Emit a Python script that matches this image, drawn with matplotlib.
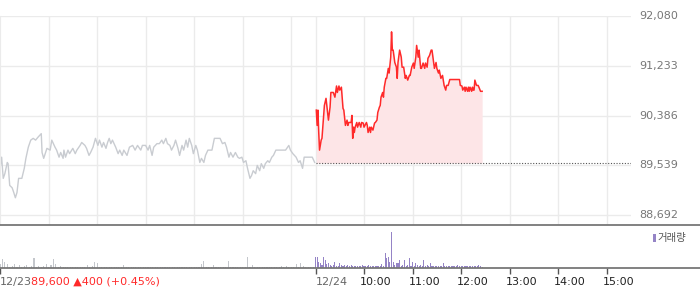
import matplotlib

matplotlib.use("Agg")
import matplotlib.pyplot as plt
from matplotlib.lines import Line2D
from matplotlib.patches import Rectangle

# 12/23 session, minutes after 09:00 and price (gray line)
prev_min = [0, 2, 4, 6, 9, 10, 12, 15, 17, 19, 21, 23, 27, 30, 32, 35, 38, 41, 44, 47,
            51, 52, 54, 58, 62, 64, 68, 70, 73, 75, 78, 79, 81, 84, 86, 90, 93, 95, 99, 101,
            105, 107, 110, 112, 115, 118, 121, 123, 126, 128, 131, 133, 135, 137, 139, 143, 146, 148, 151, 153,
            157, 160, 164, 167, 170, 174, 176, 180, 183, 185, 188, 190, 194, 197, 200, 202, 205, 207, 210, 212,
            215, 217, 220, 222, 225, 227, 230, 232, 234, 237, 239, 242, 244, 247, 249, 252, 254, 257, 262, 265,
            272, 275, 278, 280, 283, 285, 288, 291, 294, 296, 299, 301, 304, 306, 309, 311, 313, 316, 318, 321,
            323, 326, 328, 331, 333, 336, 338, 341, 353, 357, 359, 362, 364, 366, 369, 371, 374, 376, 386, 389]
prev_price = [89490, 89680, 89320, 89400, 89590, 89570, 89200, 89160, 89080, 88990, 89080, 89320, 89320, 89490, 89660, 89850, 89970, 90000, 89970, 90020,
              90080, 89760, 89660, 89830, 89800, 89970, 89850, 89800, 89680, 89760, 89660, 89800, 89680, 89800, 89740, 89830, 89740, 89800, 89880, 89930,
              89880, 89830, 89710, 89760, 89850, 90000, 89880, 89970, 89850, 89930, 89830, 89930, 90000, 89910, 89970, 89850, 89740, 89800, 89710, 89800,
              89710, 89850, 89880, 89800, 89880, 89800, 89880, 89880, 89800, 89880, 89710, 89850, 89910, 89910, 89970, 89910, 90000, 89910, 89880, 89800,
              89880, 89970, 89830, 89710, 89880, 89800, 89970, 89850, 90000, 89880, 89740, 89880, 89800, 89590, 89660, 89590, 89710, 89800, 89800, 90000,
              90000, 89910, 89930, 89850, 89680, 89760, 89680, 89760, 89680, 89660, 89680, 89590, 89620, 89490, 89320, 89370, 89450, 89400, 89540, 89450,
              89570, 89490, 89570, 89620, 89590, 89680, 89710, 89800, 89800, 89880, 89800, 89740, 89710, 89680, 89590, 89620, 89490, 89680, 89680, 89590]

# 12/24 session, minutes after 09:00 and price (red line)
today_min = [1, 2, 3, 4, 5, 7, 8, 10, 11, 13, 14, 16, 18, 19, 22, 24, 26, 27, 29, 30,
             32, 34, 35, 37, 39, 40, 41, 44, 45, 46, 47, 48, 49, 51, 52, 54, 56, 57, 59, 60,
             63, 64, 65, 67, 68, 69, 71, 73, 74, 76, 77, 79, 80, 81, 83, 84, 85, 87, 88, 90,
             91, 93, 94, 95, 96, 98, 100, 101, 102, 104, 106, 107, 109, 111, 112, 114, 116, 117, 119, 121,
             122, 124, 125, 127, 128, 130, 131, 133, 135, 136, 138, 139, 141, 143, 144, 146, 147, 149, 150, 152,
             153, 155, 157, 158, 159, 161, 162, 164, 166, 178, 179, 181, 182, 184, 185, 186, 188, 189, 190, 191,
             193, 194, 195, 196, 197, 199, 201, 202, 204, 206]
today_price = [90480, 90220, 90480, 90100, 89800, 89970, 90000, 90390, 90560, 90680, 90560, 90310, 90530, 90780, 90780, 90700, 90890, 90780, 90890, 90820,
               90870, 90510, 90480, 90220, 90310, 90220, 90270, 90270, 90390, 90000, 90190, 90100, 90190, 90270, 90190, 90270, 90190, 90270, 90260, 90190,
               90270, 90220, 90100, 90190, 90100, 90190, 90140, 90260, 90270, 90310, 90440, 90530, 90560, 90700, 90780, 90700, 90870, 91020, 91020, 91190,
               91110, 91380, 91810, 91500, 91500, 91290, 91210, 91020, 91290, 91500, 91380, 91210, 91210, 91020, 91070, 90990, 91070, 91070, 91210, 91280,
               91190, 91380, 91580, 91380, 91500, 91190, 91190, 91280, 91190, 91280, 91210, 91360, 91410, 91500, 91500, 91290, 91190, 91290, 91190, 91110,
               91160, 91020, 91070, 90990, 90900, 90820, 90900, 90900, 91000, 91000, 90900, 90890, 90820, 90870, 90800, 90870, 90800, 90870, 90800, 90870,
               90800, 90870, 90820, 90820, 90990, 90900, 90900, 90870, 90800, 90800]
base_price = 89580

# volume, 12/23 every 3 minutes and 12/24 every 2 minutes
prev_vol = [4.3, 9.3, 6, 4, 1.5, 2, 4, 1.5, 3, 1.5,
            2, 3, 1.5, 2, 10.7, 1.5, 2.5, 1.5, 2, 4,
            1.5, 3.5, 9.3, 4, 1.5, 2, 1.2, 1.5, 1.2, 1.5,
            1.2, 1.5, 1.2, 1.2, 1.5, 1.2, 3.5, 1.5, 2, 6,
            5, 1.5, 1.2, 1.5, 1.2, 1.2, 1.5, 1.2, 1.5, 1.2,
            1.2, 3.5, 1.2, 1.5, 1.2, 1.2, 1.5, 1.2, 1.2, 1.5,
            1.2, 1.2, 1.5, 1.2, 1.2, 1.2, 1.5, 1.2, 1.2, 1.5,
            1.2, 1.2, 1.5, 1.2, 1.2, 1.5, 1.2, 1.2, 1.5, 1.2,
            1.2, 1.5, 1.2, 4.5, 7.3, 1.5, 1.2, 1.2, 3.5, 1.2,
            1.5, 1.2, 1.2, 1.5, 7.3, 1.2, 1.5, 1.2, 1.2, 1.5,
            1.2, 1.5, 11.3, 1.5, 3.5, 1.2, 1.5, 1.2, 1.2, 1.5,
            1.2, 1.5, 1.2, 1.2, 1.5, 1.2, 2.5, 1.5, 2.5, 1.2,
            1.2, 1.5, 4, 1.5, 5, 2.5, 1.5, 1, 1, 1]
today_vol = [11, 11, 6, 5, 3, 11, 8, 4, 5, 3,
             2.5, 3, 6.5, 2.5, 2.5, 5, 3, 2.5, 3, 2.5,
             3, 2.5, 3, 2, 2, 2.5, 2, 2, 2, 3.3,
             2, 2, 2, 3.3, 2, 2, 2.5, 2, 2, 2,
             2.5, 4, 2.5, 15, 10, 11.7, 6.7, 36.7, 6.7, 3,
             5, 5, 8.3, 2.5, 3, 8.3, 2.5, 3, 10, 2.5,
             6.7, 2.5, 5.7, 3, 2.5, 3, 2.5, 8.3, 2.5, 3,
             2, 5, 2.5, 2, 2.5, 2, 2, 2.5, 2, 5.7,
             2, 2, 2.5, 2, 2, 2, 2, 2, 3.3, 2,
             2, 2, 2, 2, 2, 2, 2, 2, 2, 2,
             2, 3.3, 2, 1.5]

price_ticks = [88692, 89539, 90386, 91233, 92080]
price_labels = ["88,692", "89,539", "90,386", "91,233", "92,080"]
price_low = 88527
time_ticks = [0, 390, 450, 510, 570, 630, 690, 750]
time_labels = ["12/23", "12/24", "10:00", "11:00", "12:00", "13:00", "14:00", "15:00"]
session_len = 390

W, H = 700, 289
fig = plt.figure(figsize=(W / 100, H / 100), dpi=100)


def fx(px):
    return px / W


def fy(py):
    return 1 - py / H


ax = fig.add_axes([0, fy(225), fx(631), fy(16) - fy(225)])
vax = fig.add_axes([0, fy(268.3), fx(631), fy(225) - fy(268.3)])

grid_c = "#ebebeb"
ax.set_xlim(0, 2 * session_len)
ax.set_ylim(price_low, price_ticks[-1])
for t in price_ticks:
    ax.axhline(t, color=grid_c, lw=1, zorder=0)
for m in list(range(60, session_len, 60)) + [session_len] + list(range(session_len + 60, 2 * session_len, 60)):
    ax.axvline(m, color=grid_c, lw=1, zorder=0)

ax.plot(prev_min, prev_price, color="#c9ccd1", lw=1, zorder=2)
t_min = [m + session_len for m in today_min]
ax.fill_between(t_min, today_price, base_price, color="#fde5e7", lw=0, zorder=1)
ax.plot(t_min, today_price, color="#ff2a2a", lw=1.1, zorder=3)
ax.hlines(base_price, session_len, 2 * session_len, colors="#555555", lw=0.8,
          linestyles=(0, (1, 1.5)), zorder=3)

ax.set_xticks([])
ax.set_yticks([])
for side in ["top", "right", "bottom"]:
    ax.spines[side].set_visible(False)
ax.spines["left"].set_color(grid_c)

for t, lab in zip(price_ticks, price_labels):
    y = fy(16) + (t - price_ticks[-1]) / (price_ticks[-1] - price_low) * (fy(16) - fy(225))
    fig.text(fx(639), y, lab, color="#777777", fontsize=8, va="center", ha="left")

# volume panel
vax.set_xlim(0, 2 * session_len)
vax.set_ylim(0, 43.3)
vax.bar(range(0, session_len, 3), prev_vol, width=1.35, color="#c4c7cc", lw=0, antialiased=False)
vax.bar(range(session_len, session_len + 2 * len(today_vol), 2), today_vol, width=1.35,
        color="#9584c6", lw=0, antialiased=False)
vax.set_yticks([])
vax.set_xticks(time_ticks)
vax.set_xticklabels([])
vax.tick_params(axis="x", length=4, width=1, color="#555555", direction="out")
for side in ["top", "right", "left", "bottom"]:
    vax.spines[side].set_visible(False)

# full-width separators
for py in [225, 268.3]:
    fig.add_artist(Line2D([0, 1], [fy(py), fy(py)], transform=fig.transFigure, color="#777777", lw=1.3))

# time labels
px_per_min = 631 / (2 * session_len)
for m, lab in zip(time_ticks, time_labels):
    if ":" in lab:
        x0, col = m * px_per_min - 4, "#222222"
    else:
        x0, col = m * px_per_min, "#666666"
    fig.text(fx(x0), fy(282), lab, color=col, fontsize=8, va="center", ha="left")

fig.text(fx(31), fy(282), "89,600 \u25b2400 (+0.45%)", color="#ff2a2a", fontsize=8, va="center", ha="left")

# legend
fig.add_artist(Rectangle((fx(653), fy(242)), fx(2.5), fy(234) - fy(242), transform=fig.transFigure,
                         color="#9584c6", lw=0))
fig.text(fx(657), fy(238), "거래량", color="#555555", fontsize=7.5, va="center", ha="left",
         family=["Noto Sans CJK KR", "DejaVu Sans"])

fig.savefig("out.png", dpi=100)
